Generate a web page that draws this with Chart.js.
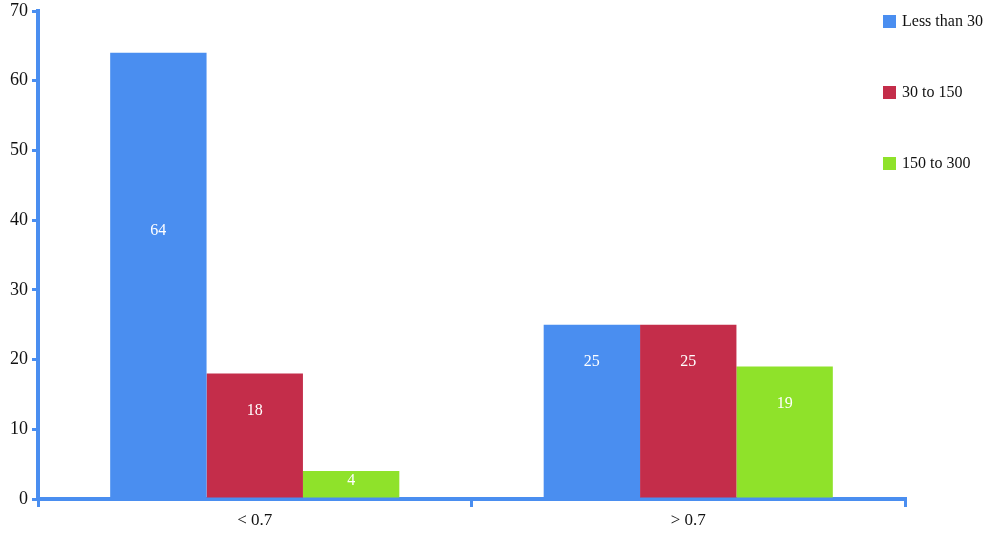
<!DOCTYPE html>
<html>
<head>
<meta charset="utf-8">
<script src="https://cdn.jsdelivr.net/npm/chart.js@4"></script>
<style>
  body { margin: 0; background: #fff; }
  #wrap { position: relative; width: 1000px; height: 538px; }
  #legend { position: absolute; left: 883px; top: 12px; font-family: "Liberation Serif", serif; font-size: 16px; color: #111; }
  #legend div { height: 71px; display: flex; align-items: flex-start; }
  #legend span.box { display: inline-block; width: 13px; height: 13px; margin: 3px 6px 0 0; }
</style>
</head>
<body>
<div id="wrap">
  <canvas id="graph" width="1000" height="538"></canvas>
  <div id="legend"></div>
</div>
<script>
const categories = ["< 0.7", "> 0.7"];
const seriesNames = ["Less than 30", "30 to 150", "150 to 300"];
const lessThan30 = [64, 25];
const from30to150 = [18, 25];
const from150to300 = [4, 19];
const yTicks = [0, 10, 20, 30, 40, 50, 60, 70];

const blue = "#4a8ef0";
const colors = ["#4a8ef0", "#c42d4a", "#8fe22a"];
const font = "'Liberation Serif', serif";

// value labels sit near the top of short bars, lower down on tall ones
const barLabels = {
  id: "barLabels",
  afterDatasetsDraw(chart) {
    const ctx = chart.ctx;
    ctx.save();
    ctx.fillStyle = "#fff";
    ctx.font = "16px " + font;
    ctx.textAlign = "center";
    ctx.textBaseline = "middle";
    chart.data.datasets.forEach((ds, i) => {
      chart.getDatasetMeta(i).data.forEach((bar, j) => {
        const h = bar.base - bar.y;
        const off = h > 200 ? h * 0.4 : Math.min(h * 0.36, 37);
        ctx.fillText(ds.data[j], bar.x, bar.y + off);
      });
    });
    ctx.restore();
  }
};

const data = {
  labels: categories,
  datasets: [
    { label: seriesNames[0], data: lessThan30, backgroundColor: colors[0] },
    { label: seriesNames[1], data: from30to150, backgroundColor: colors[1] },
    { label: seriesNames[2], data: from150to300, backgroundColor: colors[2] },
  ],
};

const config = {
  type: "bar",
  data: data,
  options: {
    responsive: false,
    animation: false,
    layout: { padding: { top: 11, right: 95 } },
    datasets: { bar: { barPercentage: 1, categoryPercentage: 0.667 } },
    plugins: { legend: { display: false }, tooltip: { enabled: false } },
    scales: {
      x: {
        afterFit: (axis) => { axis.height = 39; },
        border: { color: blue, width: 4 },
        grid: { drawOnChartArea: false, color: blue, tickLength: 8, lineWidth: 3, offset: true },
        ticks: { color: "#111", font: { family: font, size: 17 }, padding: 3 },
      },
      y: {
        min: 0,
        max: 70,
        afterFit: (axis) => {
          axis.width = 38;
          axis.paddingTop = 0;
          axis.paddingBottom = 0;
        },
        afterBuildTicks: (axis) => { axis.ticks = yTicks.map((v) => ({ value: v })); },
        border: { color: blue, width: 4 },
        grid: { drawOnChartArea: false, color: blue, tickLength: 6, lineWidth: 3 },
        ticks: { color: "#111", font: { family: font, size: 18 }, padding: 4 },
      },
    },
  },
  plugins: [barLabels],
};

new Chart(document.getElementById("graph"), config);

let html = "";
seriesNames.forEach((name, i) => {
  html += `<div><span class="box" style="background:${colors[i]}"></span>${name}</div>`;
});
document.getElementById("legend").innerHTML = html;
</script>
</body>
</html>
